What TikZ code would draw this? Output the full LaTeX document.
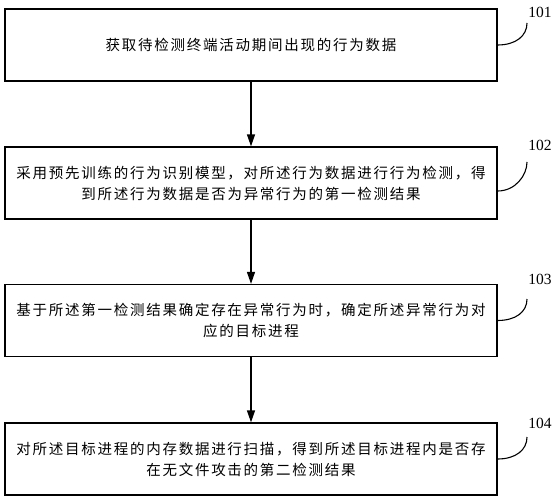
\documentclass[tikz,border=0pt]{standalone}
\usepackage{fontspec}
\setmainfont{Liberation Serif}
\newfontfamily\cjk[LetterSpace=12]{Noto Sans CJK SC}
\usetikzlibrary{arrows.meta}
\tikzset{
  stepbox/.style={draw,line width=1.3pt,minimum width=492pt,minimum height=72pt,
    inner sep=0pt,align=center,font=\cjk\fontsize{14.5pt}{21pt}\selectfont},
  flow/.style={-{Triangle[length=12pt,width=8pt]},line width=1.3pt},
  lead/.style={line width=1.1pt},
  tag/.style={font=\fontsize{15.5pt}{18pt}\selectfont}
}
\begin{document}
\begin{tikzpicture}[x=1pt,y=-1pt]
  \useasboundingbox (0,0) rectangle (556,500);
  % Steps
  \node[stepbox] (s101) at (251,45) {获取待检测终端活动期间出现的行为数据};
  \node[stepbox] (s102) at (251,183) {采用预先训练的行为识别模型，对所述行为数据进行行为检测，得\\到所述行为数据是否为异常行为的第一检测结果};
  \node[stepbox] (s103) at (251,320.5) {基于所述第一检测结果确定存在异常行为时，确定所述异常行为对\\应的目标进程};
  \node[stepbox] (s104) at (251,459) {对所述目标进程的内存数据进行扫描，得到所述目标进程内是否存\\在无文件攻击的第二检测结果};
  % Flow
  \draw[flow] (s101) -- (s102);
  \draw[flow] (s102) -- (s103);
  \draw[flow] (s103) -- (s104);
  % Tags
  \foreach \n/\y/\d/\e in {101/12/0/23,102/145/-8/162,103/279/0/299,104/423/0/437} {
    \node[tag] (t\n) at (540,\y) {\n};
    \coordinate (c\n) at (527,\e);
    \draw[lead] ([yshift=\d pt]s\n.east) .. controls +(18,0) and +(0,13) .. (c\n);
  }
\end{tikzpicture}
\end{document}
